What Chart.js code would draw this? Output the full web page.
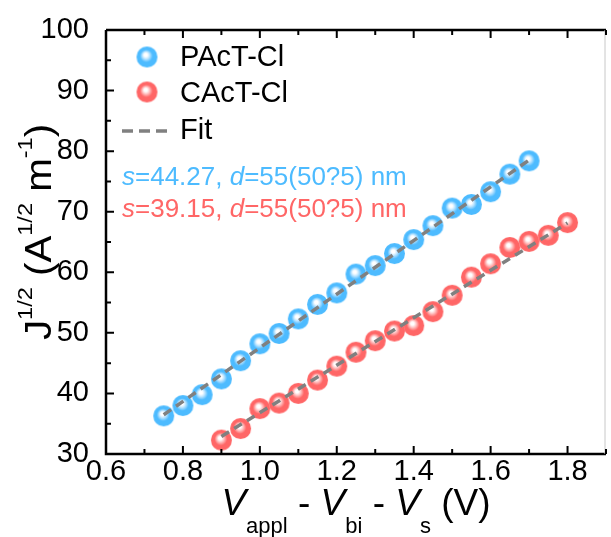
<!DOCTYPE html>
<html>
<head>
<meta charset="utf-8">
<title>J^1/2 vs V</title>
<script src="https://cdn.jsdelivr.net/npm/chart.js@4.4.0/dist/chart.umd.min.js"></script>
<style>
  html, body { margin: 0; padding: 0; background: #fff; }
  #wrap { width: 611px; height: 537px; }
</style>
</head>
<body>
<div id="wrap"><canvas id="chart" width="611" height="537"></canvas></div>
<script>
// --- Data ---
const pactX = [0.75, 0.80, 0.85, 0.90, 0.95, 1.00, 1.05, 1.10, 1.15, 1.20,
               1.25, 1.30, 1.35, 1.40, 1.45, 1.50, 1.55, 1.60, 1.65, 1.70];
const pactY = [36.3, 38.0, 39.8, 42.4, 45.4, 48.2, 49.9, 52.3, 54.7, 56.6,
               59.7, 61.1, 63.1, 65.4, 67.7, 70.6, 71.2, 73.3, 76.2, 78.4];
const cactX = [0.90, 0.95, 1.00, 1.05, 1.10, 1.15, 1.20, 1.25, 1.30, 1.35,
               1.40, 1.45, 1.50, 1.55, 1.60, 1.65, 1.70, 1.75, 1.80];
const cactY = [32.3, 34.2, 37.5, 38.4, 40.0, 42.2, 44.5, 46.8, 48.7, 50.3,
               51.2, 53.5, 56.2, 59.2, 61.4, 64.1, 65.1, 66.1, 68.2];

// linear fits: slope s (from the annotation) and intercept
const pactSlope = 44.27;
const pactIntercept = 3.27;
const cactSlope = 39.15;
const cactIntercept = -2.33;

const xTicks = [0.6, 0.8, 1.0, 1.2, 1.4, 1.6, 1.8];
const yTicks = [30, 40, 50, 60, 70, 80, 90, 100];
const seriesNames = ['PAcT-Cl', 'CAcT-Cl', 'Fit'];
const noteLines = [
  ['s', '=44.27, ', 'd', '=55(50?5) nm'],
  ['s', '=39.15, ', 'd', '=55(50?5) nm']
];

const BLUE = '#4dbbff';
const RED = '#ff6666';
const FIT_GRAY = '#808080';
const FONT = "'Liberation Sans', Arial, sans-serif";

// --- Helpers ---
function makeBall(base, tint, r) {
    const size = Math.ceil(r * 2) + 2;
    const c = document.createElement('canvas');
    c.width = c.height = size;
    const g = c.getContext('2d');
    const cx = size / 2, cy = size / 2;
    const grad = g.createRadialGradient(cx - 1.5, cy - 2.5, 0, cx, cy, r);
    grad.addColorStop(0, '#ffffff');
    grad.addColorStop(0.16, '#ffffff');
    grad.addColorStop(0.34, tint);
    grad.addColorStop(0.6, base);
    grad.addColorStop(1, base);
    g.fillStyle = grad;
    g.beginPath();
    g.arc(cx, cy, r, 0, Math.PI * 2);
    g.fill();
    return c;
}

function fitLine(xs, slope, intercept) {
    const x0 = xs[0], x1 = xs[xs.length - 1];
    return [{ x: x0, y: intercept + slope * x0 }, { x: x1, y: intercept + slope * x1 }];
}

function toPoints(xs, ys) {
    return xs.map((x, i) => ({ x: x, y: ys[i] }));
}

// text runs drawn left to right; each run may change size, style and baseline offset
function runsWidth(ctx, runs) {
    let w = 0;
    runs.forEach(r => {
        ctx.font = `${r.italic ? 'italic ' : ''}${r.size}px ${FONT}`;
        w += ctx.measureText(r.t).width;
    });
    return w;
}

function drawRuns(ctx, x, y, runs) {
    ctx.textAlign = 'left';
    ctx.textBaseline = 'alphabetic';
    runs.forEach(r => {
        ctx.font = `${r.italic ? 'italic ' : ''}${r.size}px ${FONT}`;
        ctx.fillStyle = r.color || '#000';
        ctx.fillText(r.t, x, y + (r.dy || 0));
        x += ctx.measureText(r.t).width;
    });
    return x;
}

const blueBall = makeBall(BLUE, '#bfe6ff', 10.5);
const redBall = makeBall(RED, '#ffc4c4', 10.5);

// --- Frame, inward ticks, legend, annotations and axis titles ---
const decorPlugin = {
    id: 'decor',
    afterDraw(chart) {
        const ctx = chart.ctx;
        const { left, right, top, bottom } = chart.chartArea;
        const xs = chart.scales.x, ys = chart.scales.y;
        ctx.save();

        // frame
        ctx.strokeStyle = '#000';
        ctx.lineWidth = 2.5;
        ctx.beginPath();
        ctx.moveTo(left, top);
        ctx.lineTo(left, bottom);
        ctx.lineTo(right, bottom);
        ctx.moveTo(left, top);
        ctx.lineTo(right, top);
        ctx.stroke();
        ctx.strokeStyle = '#c8c8c8';
        ctx.lineWidth = 1;
        ctx.beginPath();
        ctx.moveTo(right - 1, top);
        ctx.lineTo(right - 1, bottom);
        ctx.stroke();

        // ticks pointing inward
        ctx.strokeStyle = '#000';
        ctx.lineWidth = 2;
        ctx.beginPath();
        for (let i = 0; i <= 13; i++) {
            const v = 0.6 + i * 0.1;
            const px = xs.getPixelForValue(v);
            const len = i % 2 === 0 ? 8 : 5;
            ctx.moveTo(px, bottom);
            ctx.lineTo(px, bottom - len);
            ctx.moveTo(px, top);
            ctx.lineTo(px, top + len);
        }
        for (let i = 0; i <= 14; i++) {
            const v = 30 + i * 5;
            const py = ys.getPixelForValue(v);
            const len = i % 2 === 0 ? 8 : 5;
            ctx.moveTo(left, py);
            ctx.lineTo(left + len, py);
        }
        ctx.stroke();

        // legend
        ctx.drawImage(blueBall, 147 - blueBall.width / 2, 57 - blueBall.height / 2);
        ctx.drawImage(redBall, 147 - redBall.width / 2, 92 - redBall.height / 2);
        ctx.strokeStyle = FIT_GRAY;
        ctx.lineWidth = 3.5;
        ctx.setLineDash([11, 6]);
        ctx.beginPath();
        ctx.moveTo(122, 131);
        ctx.lineTo(170, 131);
        ctx.stroke();
        ctx.setLineDash([]);
        ctx.fillStyle = '#000';
        ctx.font = `29px ${FONT}`;
        ctx.textAlign = 'left';
        ctx.textBaseline = 'alphabetic';
        ctx.fillText(seriesNames[0], 180, 66);
        ctx.fillText(seriesNames[1], 180, 102);
        ctx.fillText(seriesNames[2], 180, 139);

        // fit annotations
        [BLUE, RED].forEach((col, k) => {
            const parts = noteLines[k];
            drawRuns(ctx, 122, 185 + k * 32, [
                { t: parts[0], size: 26, italic: true, color: col },
                { t: parts[1], size: 26, color: col },
                { t: parts[2], size: 26, italic: true, color: col },
                { t: parts[3], size: 26, color: col }
            ]);
        });

        // x axis title
        const xRuns = [
            { t: 'V', size: 37, italic: true },
            { t: 'appl', size: 22, dy: 18 },
            { t: ' - ', size: 37 },
            { t: 'V', size: 37, italic: true },
            { t: 'bi', size: 22, dy: 18 },
            { t: ' - ', size: 37 },
            { t: 'V', size: 37, italic: true },
            { t: 's', size: 22, dy: 18 },
            { t: ' (V)', size: 37 }
        ];
        const xw = runsWidth(ctx, xRuns);
        drawRuns(ctx, (left + right) / 2 - xw / 2, 515, xRuns);

        // y axis title, rotated and slightly stretched along the text
        const yRuns = [
            { t: 'J', size: 36 },
            { t: '1/2', size: 21, dy: -19 },
            { t: ' (A', size: 36 },
            { t: '1/2', size: 21, dy: -19 },
            { t: ' m', size: 36 },
            { t: '-1', size: 21, dy: -19 },
            { t: ')', size: 36 }
        ];
        const yw = runsWidth(ctx, yRuns);
        ctx.translate(51, 232);
        ctx.rotate(-Math.PI / 2);
        ctx.scale(1.12, 1);
        drawRuns(ctx, -yw / 2, 0, yRuns);

        ctx.restore();
    }
};

// --- Chart ---
const ctx = document.getElementById('chart').getContext('2d');
new Chart(ctx, {
    type: 'scatter',
    data: {
        datasets: [
            {
                label: 'PAcT-Cl fit',
                type: 'line',
                data: fitLine(pactX, pactSlope, pactIntercept),
                borderColor: FIT_GRAY,
                borderWidth: 3.5,
                borderDash: [9, 6],
                pointRadius: 0,
                fill: false,
                order: 0
            },
            {
                label: 'CAcT-Cl fit',
                type: 'line',
                data: fitLine(cactX, cactSlope, cactIntercept),
                borderColor: FIT_GRAY,
                borderWidth: 3.5,
                borderDash: [9, 6],
                pointRadius: 0,
                fill: false,
                order: 0
            },
            {
                label: seriesNames[0],
                data: toPoints(pactX, pactY),
                pointStyle: blueBall,
                order: 1
            },
            {
                label: seriesNames[1],
                data: toPoints(cactX, cactY),
                pointStyle: redBall,
                order: 1
            }
        ]
    },
    options: {
        responsive: false,
        animation: false,
        events: [],
        layout: { padding: { top: 30, right: 0, left: 0, bottom: 0 } },
        plugins: {
            legend: { display: false },
            tooltip: { enabled: false }
        },
        scales: {
            x: {
                type: 'linear',
                min: 0.6,
                max: 1.9,
                afterBuildTicks: s => { s.ticks = xTicks.map(v => ({ value: v })); },
                afterFit: s => { s.height = 83; },
                grid: { display: false },
                border: { display: false },
                ticks: {
                    autoSkip: false,
                    maxRotation: 0,
                    padding: -7,
                    color: '#000',
                    font: { family: FONT, size: 29 },
                    callback: v => v.toFixed(1)
                }
            },
            y: {
                type: 'linear',
                min: 30,
                max: 100,
                afterBuildTicks: s => { s.ticks = yTicks.map(v => ({ value: v })); },
                afterFit: s => { s.width = 106; },
                grid: { display: false },
                border: { display: false },
                ticks: {
                    autoSkip: false,
                    padding: 9,
                    color: '#000',
                    font: { family: FONT, size: 29 },
                    callback: v => String(v)
                }
            }
        }
    },
    plugins: [decorPlugin]
});
</script>
</body>
</html>
